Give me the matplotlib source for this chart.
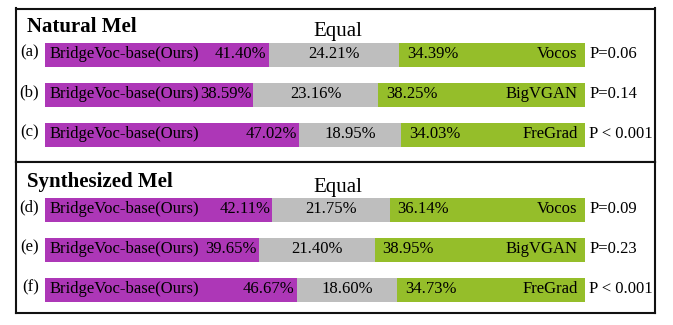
import numpy as np
import matplotlib
matplotlib.use("Agg")
import matplotlib.pyplot as plt

plt.rcParams['font.family'] = ['Liberation Serif', 'DejaVu Serif']

# data
methods = ['Vocos', 'BigVGAN', 'FreGrad']
ours_name = 'BridgeVoc-base(Ours)'

nat_letters = ['(a)', '(b)', '(c)']
nat_ours = [41.40, 38.59, 47.02]
nat_equal = [24.21, 23.16, 18.95]
nat_other = [34.39, 38.25, 34.03]
nat_p = ['P=0.06', 'P=0.14', 'P < 0.001']

syn_letters = ['(d)', '(e)', '(f)']
syn_ours = [42.11, 39.65, 46.67]
syn_equal = [21.75, 21.40, 18.60]
syn_other = [36.14, 38.95, 34.73]
syn_p = ['P=0.09', 'P=0.23', 'P < 0.001']

PURPLE = '#AD37B7'
GREY = '#BEBEBE'
GREEN = '#95BE2A'

W, H = 673, 325


def px_axes(fig, x0, y0, x1, y1):
    return fig.add_axes([x0 / W, 1 - y1 / H, (x1 - x0) / W, (y1 - y0) / H])


def draw_panel(ax, title, letters, ours, equal, other, pvals, ylim, title_dy, equal_dy):
    rows = np.arange(len(ours))
    ours = np.array(ours)
    equal = np.array(equal)
    other = np.array(other)

    ax.barh(rows, ours, height=0.6, color=PURPLE)
    ax.barh(rows, equal, left=ours, height=0.6, color=GREY)
    ax.barh(rows, other, left=ours + equal, height=0.6, color=GREEN)

    for i in rows:
        yy = i - 0.03
        ax.text(0.8, yy, ours_name, ha='left', va='center', fontsize=12)
        ax.text(ours[i] - 0.4, yy, '%.2f%%' % ours[i], ha='right', va='center', fontsize=12)
        ax.text(ours[i] + equal[i] / 2, yy, '%.2f%%' % equal[i], ha='center', va='center', fontsize=12)
        ax.text(ours[i] + equal[i] + 1.4, yy, '%.2f%%' % other[i], ha='left', va='center', fontsize=12)
        ax.text(98.6, yy, methods[i], ha='right', va='center', fontsize=12)
        ax.text(100.8, yy, pvals[i], ha='left', va='center', fontsize=12)
        ax.text(-1.1, i - 0.07, letters[i], ha='right', va='center', fontsize=12)

    ax.text(-3.4, ylim[1] + title_dy, title, ha='left', va='center', fontsize=15, fontweight='bold')
    ax.text(54.2, ylim[1] + equal_dy, 'Equal', ha='center', va='center', fontsize=15)

    ax.set_xlim(-5.37, 112.96)
    ax.set_ylim(*ylim)
    ax.set_xticks([])
    ax.set_yticks([])
    for s in ax.spines.values():
        s.set_linewidth(1.5)
        s.set_color('#111111')


def main():
    fig = plt.figure(figsize=(W / 100, H / 100), dpi=100)

    ax1 = px_axes(fig, 16, 8.5, 655, 162)
    draw_panel(ax1, 'Natural Mel', nat_letters, nat_ours, nat_equal, nat_other, nat_p,
               (2.675, -1.1625), 0.46, 0.57)

    ax2 = px_axes(fig, 16, 162, 655, 313)
    draw_panel(ax2, 'Synthesized Mel', syn_letters, syn_ours, syn_equal, syn_other, syn_p,
               (2.575, -1.2), 0.49, 0.63)

    fig.savefig('out.png', dpi=100)


if __name__ == "__main__":
    main()
